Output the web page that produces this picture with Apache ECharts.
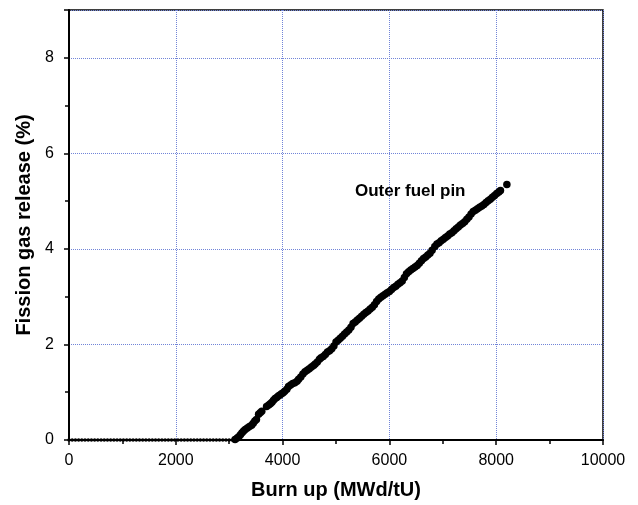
<!DOCTYPE html>
<html>
<head>
<meta charset="utf-8">
<script src="https://cdn.jsdelivr.net/npm/echarts@6/dist/echarts.min.js"></script>
<style>html,body{margin:0;padding:0;background:#fff}#c{width:638px;height:505px}</style>
</head>
<body>
<div id="c"></div>
<script>
var xTicks = [0, 2000, 4000, 6000, 8000, 10000];
var yTicks = [0, 2, 4, 6, 8];
var xTitle = 'Burn up (MWd/tU)';
var yTitle = 'Fission gas release (%)';
var seriesName = 'Outer fuel pin';

// flat part (no release)
var flatBurnup = [0, 60, 120, 180, 240, 300, 360, 420, 480, 540, 600, 660, 720, 780, 840, 900, 960, 1020, 1080, 1140, 1200, 1260, 1320, 1380, 1440, 1500, 1560, 1620, 1680, 1740, 1800, 1860, 1920, 1980, 2040, 2100, 2160, 2220, 2280, 2340, 2400, 2460, 2520, 2580, 2640, 2700, 2760, 2820, 2880, 2940, 3000, 3060];
var flatRelease = [0, 0, 0, 0, 0, 0, 0, 0, 0, 0, 0, 0, 0, 0, 0, 0, 0, 0, 0, 0, 0, 0, 0, 0, 0, 0, 0, 0, 0, 0, 0, 0, 0, 0, 0, 0, 0, 0, 0, 0, 0, 0, 0, 0, 0, 0, 0, 0, 0, 0, 0, 0];

// rising part
var burnup = [3110, 3150, 3180, 3210, 3240, 3270, 3300, 3340, 3380, 3420, 3450, 3480, 3510, 3550, 3580, 3610, 3700, 3740, 3770, 3800, 3830, 3860, 3890, 3920, 3950, 3980, 4010, 4040, 4080, 4110, 4150, 4190, 4230, 4270, 4300, 4340, 4380, 4420, 4460, 4500, 4540, 4580, 4610, 4650, 4690, 4720, 4760, 4800, 4840, 4880, 4920, 4960, 5000, 5040, 5080, 5120, 5160, 5200, 5240, 5280, 5320, 5360, 5400, 5440, 5480, 5520, 5560, 5600, 5640, 5680, 5720, 5760, 5800, 5840, 5880, 5920, 5960, 6000, 6040, 6080, 6120, 6160, 6200, 6240, 6280, 6320, 6360, 6400, 6440, 6480, 6520, 6560, 6600, 6640, 6680, 6720, 6760, 6800, 6850, 6890, 6930, 6970, 7010, 7050, 7090, 7130, 7170, 7210, 7250, 7290, 7330, 7370, 7410, 7450, 7490, 7530, 7570, 7610, 7650, 7690, 7730, 7770, 7810, 7850, 7890, 7930, 7970, 8010, 8050, 8080, 8200];
var release = [0.01, 0.04, 0.07, 0.11, 0.15, 0.19, 0.22, 0.25, 0.28, 0.31, 0.35, 0.40, 0.43, 0.54, 0.57, 0.60, 0.70, 0.73, 0.76, 0.79, 0.83, 0.87, 0.89, 0.92, 0.94, 0.97, 0.99, 1.02, 1.06, 1.12, 1.15, 1.18, 1.20, 1.23, 1.27, 1.32, 1.38, 1.43, 1.46, 1.49, 1.53, 1.56, 1.59, 1.63, 1.69, 1.72, 1.75, 1.79, 1.84, 1.87, 1.91, 1.97, 2.05, 2.09, 2.13, 2.17, 2.22, 2.26, 2.30, 2.36, 2.44, 2.47, 2.51, 2.55, 2.59, 2.63, 2.67, 2.70, 2.74, 2.78, 2.83, 2.90, 2.95, 2.99, 3.02, 3.05, 3.08, 3.11, 3.15, 3.19, 3.22, 3.26, 3.29, 3.33, 3.40, 3.48, 3.52, 3.56, 3.59, 3.62, 3.65, 3.70, 3.75, 3.80, 3.83, 3.87, 3.91, 3.97, 4.05, 4.10, 4.13, 4.17, 4.20, 4.24, 4.27, 4.31, 4.34, 4.38, 4.42, 4.46, 4.50, 4.53, 4.57, 4.62, 4.67, 4.73, 4.78, 4.81, 4.84, 4.87, 4.90, 4.93, 4.97, 5.01, 5.04, 5.08, 5.12, 5.16, 5.19, 5.22, 5.35];

var flatData = flatBurnup.map(function (x, i) { return [x, flatRelease[i]]; });
var riseData = burnup.map(function (x, i) { return [x, release[i]]; });

var FONT = '"Liberation Sans", Arial, sans-serif';
var chart = echarts.init(document.getElementById('c'), null, {renderer: 'canvas'});
chart.setOption({
  animation: false,
  backgroundColor: '#fff',
  grid: {left: 69, right: 35, top: 10, bottom: 65, show: true, borderColor: '#000', borderWidth: 1.5, backgroundColor: 'transparent'},
  xAxis: {
    type: 'value', min: xTicks[0], max: xTicks[xTicks.length - 1], interval: 2000,
    name: xTitle, nameLocation: 'middle', nameGap: 40,
    nameTextStyle: {fontFamily: FONT, fontSize: 20, fontWeight: 'bold', color: '#000'},
    axisLine: {show: true, onZero: false, lineStyle: {color: '#000', width: 2}},
    axisTick: {show: true, inside: false, length: 5, lineStyle: {color: '#000', width: 1.5}},
    minorTick: {show: true, splitNumber: 2, length: 4, lineStyle: {color: '#000', width: 1.5}},
    axisLabel: {margin: 13, fontFamily: FONT, fontSize: 16, color: '#000',
      formatter: function (v) { return String(v); }},
    splitLine: {show: true, lineStyle: {color: '#7184d8', type: 'dotted', width: 1}}
  },
  yAxis: {
    type: 'value', min: 0, max: 9, interval: 2,
    name: yTitle, nameLocation: 'middle', nameGap: 34,
    nameTextStyle: {fontFamily: FONT, fontSize: 20, fontWeight: 'bold', color: '#000'},
    axisLine: {show: true, onZero: false, lineStyle: {color: '#000', width: 2}},
    axisTick: {show: true, inside: false, length: 5, lineStyle: {color: '#000', width: 1.5}},
    minorTick: {show: true, splitNumber: 2, length: 4, lineStyle: {color: '#000', width: 1.5}},
    axisLabel: {margin: 15, fontFamily: FONT, fontSize: 16, color: '#000',
      formatter: function (v) { return yTicks.indexOf(v) >= 0 ? String(v) : ''; }},
    splitLine: {show: true, lineStyle: {color: '#7184d8', type: 'dotted', width: 1}}
  },
  graphic: [{
    type: 'text', left: 355, top: 183,
    style: {text: seriesName, font: 'bold 17px ' + FONT, fill: '#000'}
  }],
  series: [
    {type: 'scatter', name: seriesName + ' (flat)', data: flatData, symbol: 'circle', symbolSize: 3.5,
     itemStyle: {color: '#000', opacity: 1}, clip: false, z: 3},
    {type: 'scatter', name: seriesName, data: riseData, symbol: 'circle', symbolSize: 7.5,
     itemStyle: {color: '#000', opacity: 1}, clip: false, z: 4}
  ]
});
</script>
</body>
</html>
